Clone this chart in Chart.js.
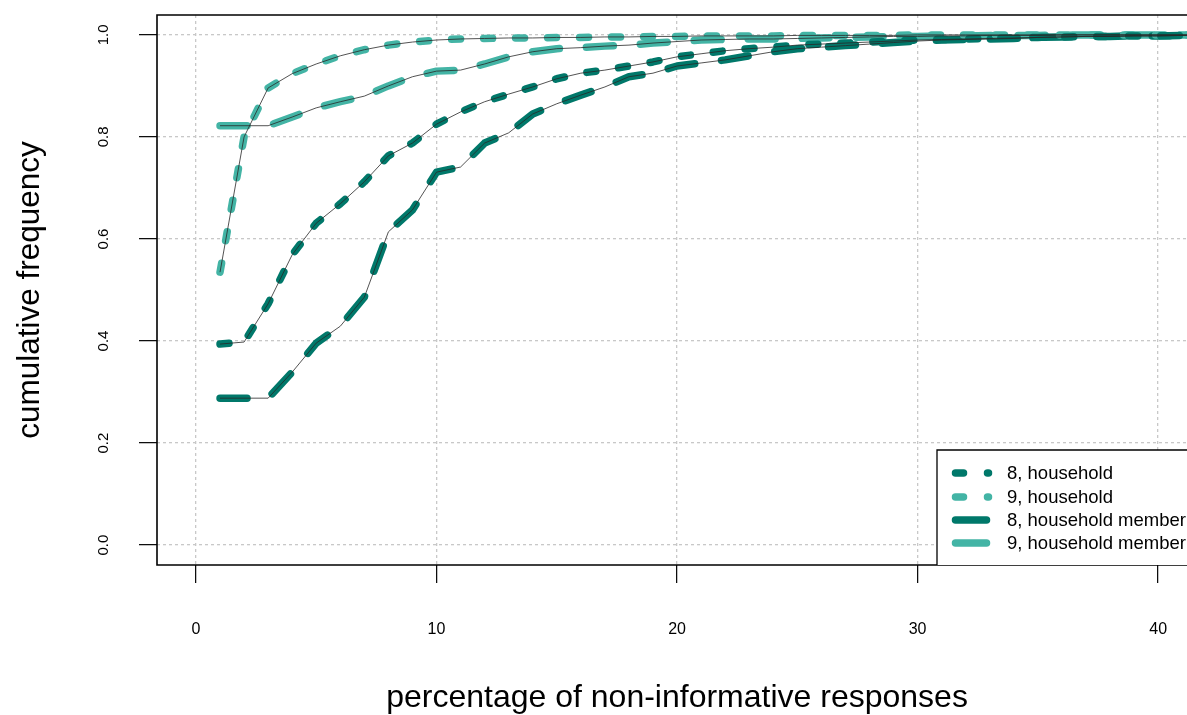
<!DOCTYPE html>
<html>
<head>
<meta charset="utf-8">
<script src="https://cdn.jsdelivr.net/npm/chart.js@4.4.1/dist/chart.umd.min.js"></script>
<style>
html,body{margin:0;padding:0;background:#fff;overflow:hidden;}
#wrap{position:relative;width:1187px;height:715px;}
</style>
</head>
<body>
<div id="wrap"><canvas id="c" width="1187" height="715"></canvas></div>
<script>
// ---- data ----
const xValues = [1,2,3,4,5,6,7,8,9,10,11,12,13,14,15,16,17,18,19,20,21,22,23,24,25,26,27,28,29,30,31,32,33,34,35,36,37,38,39,40,41,42,43,44,45];
const hh8 = [0.394,0.398,0.473,0.569,0.631,0.669,0.712,0.763,0.788,0.825,0.849,0.869,0.884,0.898,0.914,0.925,0.931,0.939,0.947,0.957,0.963,0.969,0.973,0.976,0.980,0.982,0.984,0.986,0.988,0.990,0.991,0.992,0.993,0.994,0.995,0.996,0.997,0.997,0.998,0.998,0.999,0.999,1,1,1];
const hh9 = [0.535,0.800,0.896,0.924,0.943,0.959,0.971,0.980,0.986,0.990,0.992,0.993,0.994,0.994,0.995,0.995,0.996,0.996,0.997,0.997,0.998,0.998,0.998,0.998,0.999,0.999,0.999,0.999,0.999,1,1,1,1,1,1,1,1,1,1,1,1,1,1,1,1];
const mem8 = [0.288,0.288,0.288,0.339,0.396,0.429,0.486,0.614,0.657,0.731,0.741,0.788,0.808,0.845,0.865,0.882,0.898,0.918,0.925,0.939,0.945,0.951,0.959,0.967,0.973,0.976,0.979,0.982,0.985,0.988,0.990,0.991,0.992,0.993,0.995,0.996,0.997,0.997,0.998,0.998,0.999,0.999,1,1,1];
const mem9 = [0.822,0.822,0.822,0.839,0.857,0.869,0.880,0.900,0.918,0.929,0.931,0.943,0.957,0.967,0.973,0.975,0.978,0.980,0.984,0.987,0.990,0.991,0.992,0.992,0.993,0.994,0.995,0.996,0.997,0.997,0.998,0.998,0.999,0.999,0.999,1,1,1,1,1,1,1,1,1,1];
const seriesNames = ["8, household","9, household","8, household member","9, household member"];
const xTicks = [0,10,20,30,40];
const yTicks = [0,0.2,0.4,0.6,0.8,1.0];
const xTitle = "percentage of non-informative responses";
const yTitle = "cumulative frequency";

const DARK = '#00786A', LIGHT = '#43B4A5';
const FONT = '"Liberation Sans", Arial, sans-serif';

function pts(arr){ return xValues.map((x,i)=>({x:x,y:arr[i]})); }
const seriesData = [hh8, hh9, mem8, mem9];
const colors = [DARK, LIGHT, DARK, LIGHT];
const dashed = [true, true, false, false];

const datasets = [];
seriesData.forEach((s,i)=>{
  datasets.push({label:seriesNames[i], data:pts(s), borderColor:colors[i], borderWidth:7.5,
    borderDash: dashed[i] ? [9,23] : [27,27], borderCapStyle:'round', borderJoinStyle:'round',
    pointRadius:0, tension:0, fill:false, order:2});
});
seriesData.forEach((s,i)=>{
  datasets.push({label:'_thin'+i, data:pts(s), borderColor:'rgba(40,40,40,0.8)', borderWidth:1,
    pointRadius:0, tension:0, fill:false, order:1});
});

const decor = {
  id:'decor',
  afterDraw(chart){
    const ctx = chart.ctx, a = chart.chartArea, xs = chart.scales.x, ys = chart.scales.y;
    ctx.save();
    // frame
    ctx.strokeStyle = '#000'; ctx.lineWidth = 1.6;
    ctx.beginPath();
    ctx.moveTo(1200, a.top); ctx.lineTo(a.left, a.top); ctx.lineTo(a.left, a.bottom); ctx.lineTo(1200, a.bottom);
    ctx.stroke();
    // y tick labels (rotated like R)
    ctx.fillStyle = '#000';
    ctx.font = '15px ' + FONT;
    ctx.textAlign = 'center'; ctx.textBaseline = 'middle';
    yTicks.forEach(v=>{
      const y = ys.getPixelForValue(v);
      ctx.save(); ctx.translate(104, y); ctx.rotate(-Math.PI/2);
      ctx.fillText(v.toFixed(1), 0, 0); ctx.restore();
    });
    // axis titles
    ctx.font = '32px ' + FONT;
    ctx.textBaseline = 'alphabetic';
    ctx.fillText(xTitle, xs.getPixelForValue(20), 707);
    ctx.font = '31.5px ' + FONT;
    ctx.save(); ctx.translate(39, (a.top + a.bottom)/2); ctx.rotate(-Math.PI/2);
    ctx.fillText(yTitle, 0, 0); ctx.restore();
    // legend
    const lx = 937, ly = 450;
    ctx.fillStyle = '#fff';
    ctx.fillRect(lx, ly, 1200-lx, a.bottom-ly);
    ctx.strokeStyle = '#000'; ctx.lineWidth = 1.3;
    ctx.beginPath(); ctx.moveTo(1200, ly); ctx.lineTo(lx, ly); ctx.lineTo(lx, a.bottom); ctx.stroke();
    const rows = [473, 497, 520, 543];
    ctx.font = '18.5px ' + FONT; ctx.textAlign = 'left'; ctx.textBaseline = 'middle';
    seriesNames.forEach((n,i)=>{
      const y = rows[i];
      ctx.strokeStyle = colors[i]; ctx.lineWidth = 7.5; ctx.lineCap = 'round';
      ctx.setLineDash(dashed[i] ? [8,24,1,100] : []);
      ctx.beginPath(); ctx.moveTo(955.5, y); ctx.lineTo(dashed[i] ? 989 : 986.5, y); ctx.stroke();
      ctx.setLineDash([]);
      ctx.fillStyle = '#000';
      ctx.fillText(n, 1007, y + 1);
    });
    ctx.restore();
  }
};

const gridOpts = {color:'#c8c8c8', lineWidth:1.3, drawTicks:true, tickLength:18, tickColor:'#000', tickWidth:1.2, tickBorderDash:[]};

new Chart(document.getElementById('c'), {
  type:'line',
  data:{datasets:datasets},
  options:{
    responsive:false, animation:false,
    layout:{padding:{top:15, right:0, left:0, bottom:0}},
    plugins:{legend:{display:false}, tooltip:{enabled:false}},
    scales:{
      x:{type:'linear', min:-1.62, max:41.2,
        afterFit(s){ s.height = 150; s.paddingLeft = 0; s.paddingRight = 0; },
        afterBuildTicks(s){ s.ticks = xTicks.map(v=>({value:v})); },
        ticks:{font:{size:16, family:FONT}, color:'#000', padding:37, maxRotation:0, autoSkip:false},
        grid:gridOpts,
        border:{display:false, dash:[3,3]}},
      y:{type:'linear', min:-0.039, max:1.039,
        afterFit(s){ s.width = 157; s.paddingTop = 0; s.paddingBottom = 0; },
        afterBuildTicks(s){ s.ticks = yTicks.map(v=>({value:v})); },
        ticks:{display:false},
        grid:gridOpts,
        border:{display:false, dash:[3,3]}}
    }
  },
  plugins:[decor]
});
</script>
</body>
</html>
